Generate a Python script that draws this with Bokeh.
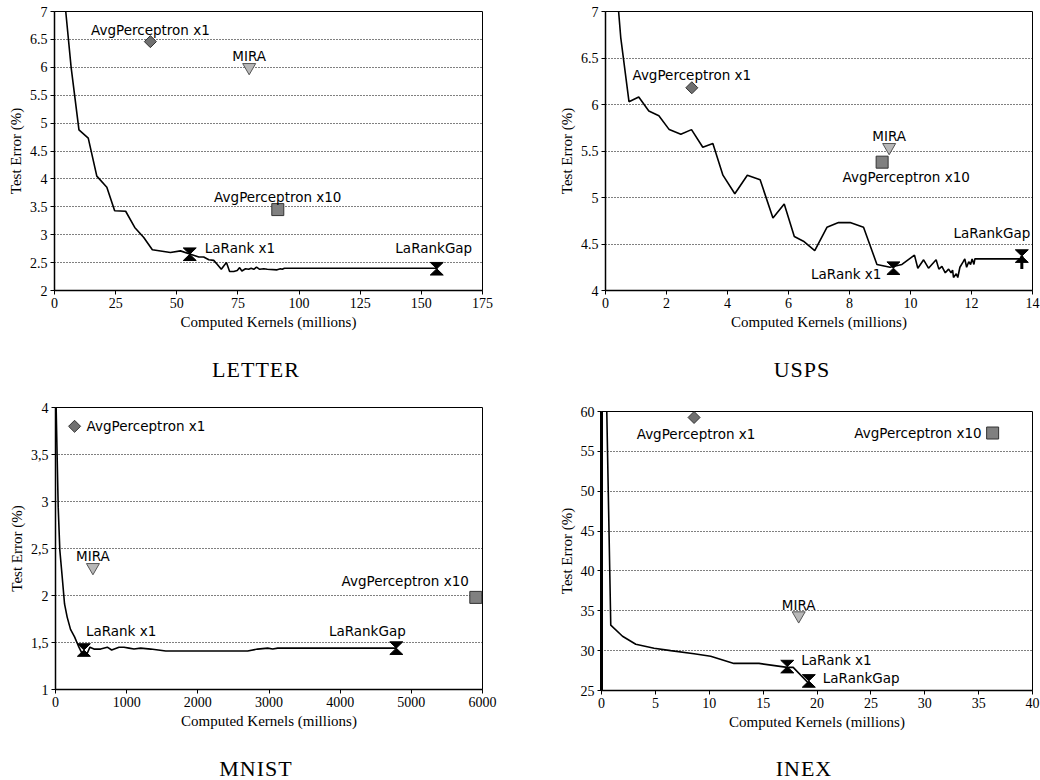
from bokeh.plotting import figure
from bokeh.layouts import column, row
from bokeh.models import FixedTicker, Range1d, Div
from bokeh.core.properties import value
from bokeh.embed import file_html
from bokeh.resources import INLINE

# ---------------- data ----------------
methods = ["AvgPerceptron x1", "MIRA", "AvgPerceptron x10", "LaRank x1", "LaRankGap"]

# LETTER
letter_curve_x = [4.0, 4.6, 6.8, 10.0, 13.8, 17.3, 21.4, 24.6, 29.1, 32.8, 36.5, 40.0, 47.4, 51.5,
                  55.6, 59.0, 61.0, 63.1, 65.1, 66.5, 68.2, 69.2, 70.3, 71.6, 73.3, 74.7, 75.7,
                  76.6, 78.1, 79.4, 80.4, 81.5, 82.6, 83.9, 85.6, 87.0, 91.0, 92.4, 93.1, 94.0, 156.6]
letter_curve_y = [7.6, 7.0, 6.0, 4.88, 4.73, 4.05, 3.85, 3.43, 3.42, 3.13, 2.95, 2.73, 2.68, 2.71,
                  2.65, 2.60, 2.60, 2.55, 2.54, 2.47, 2.38, 2.44, 2.50, 2.34, 2.34, 2.36, 2.41,
                  2.35, 2.39, 2.38, 2.40, 2.38, 2.42, 2.38, 2.39, 2.38, 2.37, 2.39, 2.38, 2.40, 2.40]
letter_pts_x = [39.2, 79.6, 91.3, 55.3, 156.3]
letter_pts_y = [6.46, 6.0, 3.45, 2.65, 2.39]
letter_xticks = [0, 25, 50, 75, 100, 125, 150, 175]
letter_yticks = [2, 2.5, 3, 3.5, 4, 4.5, 5, 5.5, 6, 6.5, 7]
letter_ylabels = ["2", "2.5", "3", "3.5", "4", "4.5", "5", "5.5", "6", "6.5", "7"]

# USPS
usps_curve_x = [0.40, 0.43, 0.50, 0.77, 1.09, 1.42, 1.75, 2.09, 2.47, 2.82, 3.19, 3.52, 3.85, 4.24,
                4.65, 5.07, 5.49, 5.86, 6.19, 6.49, 6.86, 7.26, 7.64, 8.02, 8.46, 8.90, 9.33,
                9.72, 10.13, 10.24, 10.43, 10.59, 10.84, 10.93, 11.03, 11.14, 11.25, 11.33, 11.38,
                11.41, 11.50, 11.55, 11.62, 11.73, 11.78, 11.84, 11.91, 11.97, 12.02, 12.08, 12.11, 13.66]
usps_curve_y = [7.3, 7.0, 6.72, 6.03, 6.08, 5.93, 5.88, 5.73, 5.68, 5.73, 5.54, 5.58, 5.24, 5.04,
                5.24, 5.19, 4.78, 4.93, 4.58, 4.53, 4.43, 4.68, 4.73, 4.73, 4.68, 4.28, 4.25,
                4.28, 4.38, 4.24, 4.33, 4.24, 4.33, 4.23, 4.26, 4.19, 4.23, 4.19, 4.22,
                4.14, 4.18, 4.14, 4.25, 4.31, 4.34, 4.25, 4.31, 4.28, 4.34, 4.28, 4.34, 4.34]
usps_pts_x = [2.83, 9.30, 9.07, 9.44, 13.65]
usps_pts_y = [6.18, 5.54, 5.38, 4.24, 4.37]
usps_gap_bar_y = [4.37, 4.23]
usps_xticks = [0, 2, 4, 6, 8, 10, 12, 14]
usps_yticks = [4, 4.5, 5, 5.5, 6, 6.5, 7]
usps_ylabels = ["4", "4.5", "5", "5.5", "6", "6.5", "7"]

# MNIST
mnist_curve_x = [5, 9, 23, 38, 61, 94, 127, 164, 211, 268, 329, 376, 437, 484, 540, 634, 728, 789,
                 892, 962, 1033, 1103, 1197, 1338, 1549, 2700, 2840, 2981, 3052, 3122, 4789]
mnist_curve_y = [4.5, 4.0, 3.48, 2.94, 2.48, 2.20, 1.91, 1.77, 1.64, 1.56, 1.45, 1.38, 1.37, 1.45,
                 1.43, 1.43, 1.45, 1.42, 1.45, 1.45, 1.44, 1.43, 1.44, 1.43, 1.41, 1.41, 1.43,
                 1.44, 1.43, 1.44, 1.44]
mnist_pts_x = [268, 526, 5906, 399, 4789]
mnist_pts_y = [3.80, 2.30, 1.98, 1.42, 1.44]
mnist_xticks = [0, 1000, 2000, 3000, 4000, 5000, 6000]
mnist_yticks = [1, 1.5, 2, 2.5, 3, 3.5, 4]
mnist_ylabels = ["1", "1,5", "2", "2,5", "3", "3,5", "4"]

# INEX
inex_curve_x = [0.45, 0.49, 0.86, 1.95, 3.18, 4.88, 6.42, 8.59, 10.13, 12.29, 14.61, 17.24, 17.79, 19.15]
inex_curve_y = [62.0, 60.0, 33.2, 31.8, 30.8, 30.3, 30.0, 29.6, 29.3, 28.4, 28.4, 27.9, 27.9, 26.0]
inex_pts_x = [8.59, 18.3, 36.3, 17.24, 19.24]
inex_pts_y = [59.25, 34.4, 57.3, 28.0, 26.2]
inex_xticks = [0, 5, 10, 15, 20, 25, 30, 35, 40]
inex_yticks = [25, 30, 35, 40, 45, 50, 55, 60]
inex_ylabels = ["25", "30", "35", "40", "45", "50", "55", "60"]

# ---------------- layout / style ----------------
SERIF = "Liberation Serif"
SANS = "DejaVu Sans"

panels = [
    dict(title="LETTER", cx=letter_curve_x, cy=letter_curve_y, px=letter_pts_x, py=letter_pts_y,
         xr=(0, 175), yr=(2, 7), xt=letter_xticks, yt=letter_yticks, yl=letter_ylabels,
         w=520, h=350, b=(11, 38, 60, 54), tshift=(-4, 7), axw=1.5,
         lab=[(0, -12, "center"), (0, -11, "center"), (0, -13, "center"), (15, -6, "left"), (-3, -21, "center")]),
    dict(title="USPS", cx=usps_curve_x, cy=usps_curve_y, px=usps_pts_x, py=usps_pts_y,
         xr=(0, 14), yr=(4, 7), xt=usps_xticks, yt=usps_yticks, yl=usps_ylabels,
         w=520, h=350, b=(11, 8, 60, 85), tshift=(22, 7), axw=1.5,
         lab=[(0, -13, "center"), (0, -11, "center"), (24, 15, "center"), (-12, 6, "right"), (-30, -23, "center")]),
    dict(title="MNIST", cx=mnist_curve_x, cy=mnist_curve_y, px=mnist_pts_x, py=mnist_pts_y,
         xr=(0, 6000), yr=(1, 4), xt=mnist_xticks, yt=mnist_yticks, yl=mnist_ylabels,
         w=520, h=350, b=(17, 38, 51, 55), tshift=(-4, 16), axw=1.5,
         lab=[(12, 0, "left"), (0, -11, "center"), (-7, -16, "right"), (2, -19, "left"), (-29, -17, "center")]),
    dict(title="INEX", cx=inex_curve_x, cy=inex_curve_y, px=inex_pts_x, py=inex_pts_y,
         xr=(0, 40), yr=(25, 60), xt=inex_xticks, yt=inex_yticks, yl=inex_ylabels,
         w=520, h=350, b=(21, 8, 50, 81), tshift=(24, 16), axw=3,
         lab=[(2, 17, "center"), (0, -11, "center"), (-11, 0, "right"), (14, -7, "left"), (14, -3, "left")]),
]
TITLE_BOX_H = 40


def hourglass(p, xs, ys, sx, sy, hw=6.5, hh=6.3):
    pxs, pys = [], []
    for x, y in zip(xs, ys):
        dx, dy = hw * sx, hh * sy
        pxs.append([x - dx, x + dx, x, x + dx, x - dx, x])
        pys.append([y + dy, y + dy, y, y - dy, y - dy, y])
    p.patches(pxs, pys, fill_color="black", line_color="black", line_width=1)


cells = []
for cfg in panels:
    top, right, bottom, left = cfg["b"]
    p = figure(width=cfg["w"], height=cfg["h"], output_backend="svg", toolbar_location=None,
               x_range=Range1d(*cfg["xr"]), y_range=Range1d(*cfg["yr"]),
               min_border_top=top, min_border_right=right, min_border_bottom=bottom,
               min_border_left=left)
    fw = cfg["w"] - left - right
    fh = cfg["h"] - top - bottom
    sx = (cfg["xr"][1] - cfg["xr"][0]) / fw
    sy = (cfg["yr"][1] - cfg["yr"][0]) / fh

    p.outline_line_color = "black"
    p.outline_line_width = 1
    p.outline_line_alpha = 1
    p.background_fill_color = "white"
    p.border_fill_color = "white"

    p.xgrid.visible = False
    p.ygrid.ticker = FixedTicker(ticks=cfg["yt"])
    p.ygrid.grid_line_color = "black"
    p.ygrid.grid_line_dash = "1 2"
    p.ygrid.grid_line_width = 1

    p.xaxis.ticker = FixedTicker(ticks=cfg["xt"])
    p.yaxis.ticker = FixedTicker(ticks=cfg["yt"])
    p.yaxis.major_label_overrides = {t: l for t, l in zip(cfg["yt"], cfg["yl"])}
    for ax in (p.xaxis, p.yaxis):
        ax.axis_line_color = "black"
        ax.major_tick_line_color = "black"
        ax.major_tick_in = 0
        ax.major_tick_out = 4
        ax.minor_tick_line_color = None
        ax.major_label_text_font = SERIF
        ax.major_label_text_font_size = "14px"
        ax.major_label_text_color = "black"
        ax.axis_label_text_font = SERIF
        ax.axis_label_text_font_size = "15px"
        ax.axis_label_text_font_style = "normal"
        ax.axis_label_text_color = "black"
        ax.major_label_standoff = 3
        ax.axis_label_standoff = 3
    p.xaxis.axis_line_width = 1.5
    p.yaxis.axis_line_width = cfg["axw"]
    p.xaxis.axis_label = "Computed Kernels (millions)"
    p.yaxis.axis_label = "Test Error (%)"

    # curve
    p.line(cfg["cx"], cfg["cy"], line_color="black", line_width=1.6)

    px, py = cfg["px"], cfg["py"]
    # AvgPerceptron x1 : diamond
    p.scatter([px[0]], [py[0]], marker="square", angle=0.785398, size=8.5,
              fill_color="#707070", line_color="#333333", line_width=1)
    # MIRA : inverted triangle
    p.scatter([px[1]], [py[1]], marker="inverted_triangle", size=13,
              fill_color="#b8b8b8", line_color="#555555", line_width=1)
    # AvgPerceptron x10 : square
    p.scatter([px[2]], [py[2]], marker="square", size=12,
              fill_color="#808080", line_color="#333333", line_width=1)
    # LaRank markers : hourglass
    if cfg["title"] == "USPS":
        p.line([px[4], px[4]], usps_gap_bar_y, line_color="black", line_width=3)
    hourglass(p, px[3:5], py[3:5], sx, sy)

    # labels
    for i, name in enumerate(methods):
        dx, dy, al = cfg["lab"][i]
        p.text([px[i]], [py[i]], text=[name], x_offset=dx, y_offset=dy,
               text_align=al, text_baseline="middle", text_font=value(SANS),
               text_font_size="13.5px", text_color="black")

    shx, shy = cfg["tshift"]
    html = ("<div style=\"position:relative; left:%dpx; top:%dpx; width:%dpx; text-align:center; "
            "font-family:'%s'; font-size:22px; line-height:26px; letter-spacing:1px; color:black;\">%s</div>"
            % (shx, shy, cfg["w"], SERIF, cfg["title"]))
    d = Div(text=html, width=cfg["w"], height=TITLE_BOX_H, margin=0)
    cells.append(column(p, d, spacing=0))

layout = column(row(cells[0], cells[1], spacing=0), row(cells[2], cells[3], spacing=0), spacing=0)
open("out.html", "w").write(file_html(layout, INLINE))
